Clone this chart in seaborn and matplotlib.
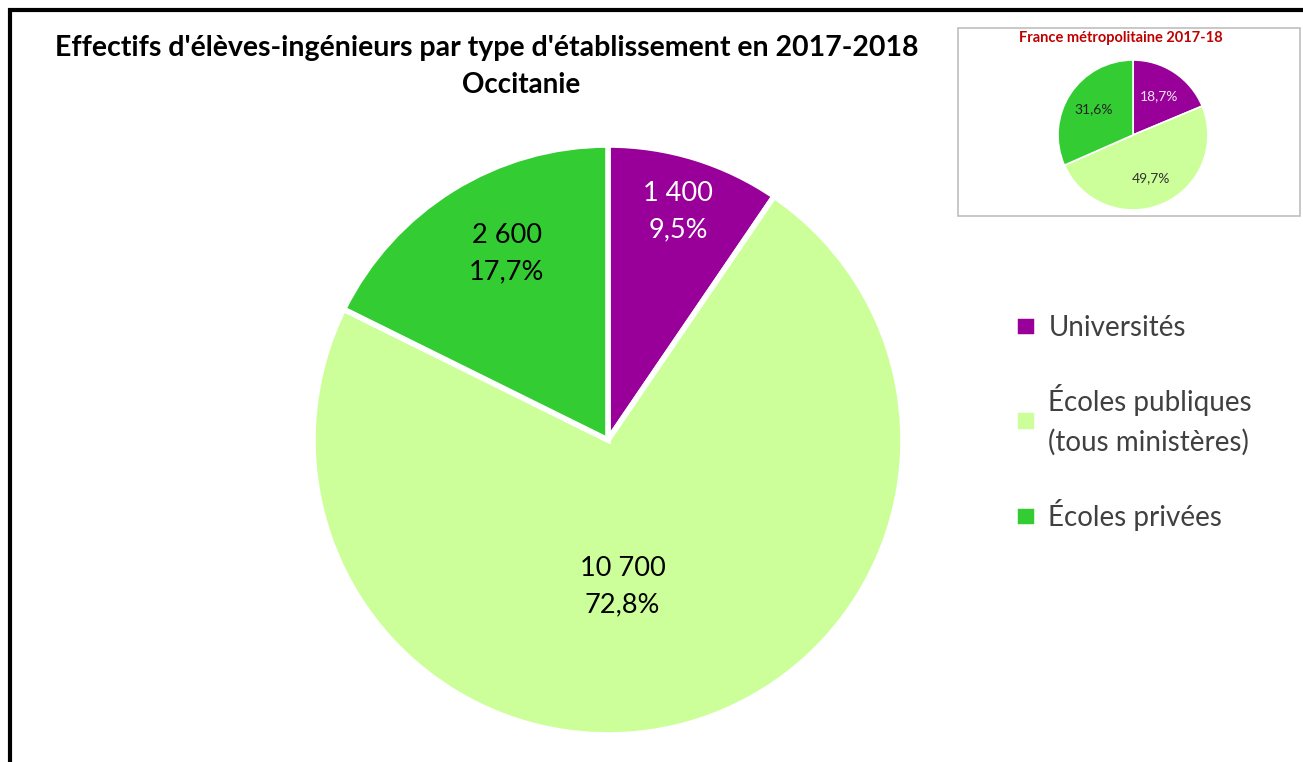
import numpy as np
import pandas as pd
import matplotlib
matplotlib.use("Agg")
import matplotlib.pyplot as plt
from matplotlib.patches import Rectangle
import seaborn as sns

# donnees Occitanie
categories = ["Universités", "Écoles publiques\n(tous ministères)", "Écoles privées"]
effectifs = [1400, 10700, 2600]
effectifs_txt = ["1 400", "10 700", "2 600"]
parts_txt = ["9,5%", "72,8%", "17,7%"]
# donnees France metropolitaine
parts_france = [18.7, 49.7, 31.6]
parts_france_txt = ["18,7%", "49,7%", "31,6%"]

colors = ["#990099", "#CCFF99", "#33CC33"]
label_colors = ["white", "black", "black"]
label_r = [0.81, 0.50, 0.72]
label_dtheta = [0, -9, -3.3]   # petit decalage des etiquettes comme dans Excel

sns.set_theme(style="white")
plt.rcParams['font.family'] = ['Lato', 'DejaVu Sans']

W, H = 1303, 762
fig = plt.figure(figsize=(W / 100, H / 100), dpi=100)
fig.patch.set_facecolor("white")

# cadre
fig.add_artist(Rectangle((10 / W, -0.1), 1.2, (H - 10) / H + 0.1, transform=fig.transFigure,
                         fill=False, edgecolor="black", linewidth=3))

# camembert principal
cx, cy, r = 608, H - 440, 295
ax = fig.add_axes([(cx - r) / W, (cy - r) / H, 2 * r / W, 2 * r / H])
wedges, _ = ax.pie(effectifs, colors=colors, startangle=90, counterclock=False,
                   wedgeprops=dict(edgecolor="white", linewidth=4))
for w, n, p, c, lr, dt in zip(wedges, effectifs_txt, parts_txt, label_colors, label_r, label_dtheta):
    th = np.deg2rad((w.theta1 + w.theta2) / 2 + dt)
    ax.text(lr * np.cos(th), lr * np.sin(th), n + "\n" + p, ha="center", va="center",
            fontsize=19.5, color=c, linespacing=1.55)
ax.set_xlim(-1, 1)
ax.set_ylim(-1, 1)
ax.set_aspect("equal")

fig.text(487 / W, 1 - 48 / H, "Effectifs d'élèves-ingénieurs par type d'établissement en 2017-2018",
         ha="center", va="center", fontsize=20.5, fontweight="bold", color="black")
fig.text(521 / W, 1 - 85 / H, "Occitanie", ha="center", va="center", fontsize=20,
         fontweight="bold", color="black")

# legende
leg = fig.legend(wedges, categories, loc="upper left", bbox_to_anchor=(990 / W, 1 - 290 / H),
                 frameon=False, fontsize=20, labelspacing=1.55, handlelength=0.8, handleheight=0.8,
                 handletextpad=0.4, labelcolor="#404040")
for t in leg.get_texts():
    t.set_linespacing(1.6)

# encart France metropolitaine
fig.add_artist(Rectangle((958 / W, 1 - 216 / H), 342 / W, 188 / H, transform=fig.transFigure,
                         fill=False, edgecolor="#BFBFBF", linewidth=1.2))
fig.text(1121 / W, 1 - 38 / H, "France métropolitaine 2017-18", ha="center", va="center",
         fontsize=10.5, fontweight="bold", color="#C00000")
icx, icy, ir = 1133, H - 135, 75
ax2 = fig.add_axes([(icx - ir) / W, (icy - ir) / H, 2 * ir / W, 2 * ir / H])
w2, _, t2 = ax2.pie(parts_france, colors=colors, startangle=90, counterclock=False,
                    autopct="%1.1f%%", pctdistance=0.62,
                    wedgeprops=dict(edgecolor="white", linewidth=1.2),
                    textprops=dict(fontsize=10))
for t, s, c in zip(t2, parts_france_txt, ["#F5E6F5", "#333333", "#222222"]):
    t.set_text(s)
    t.set_color(c)
ax2.set_xlim(-1, 1)
ax2.set_ylim(-1, 1)
ax2.set_aspect("equal")

fig.savefig("out.png", dpi=100, facecolor="white")
